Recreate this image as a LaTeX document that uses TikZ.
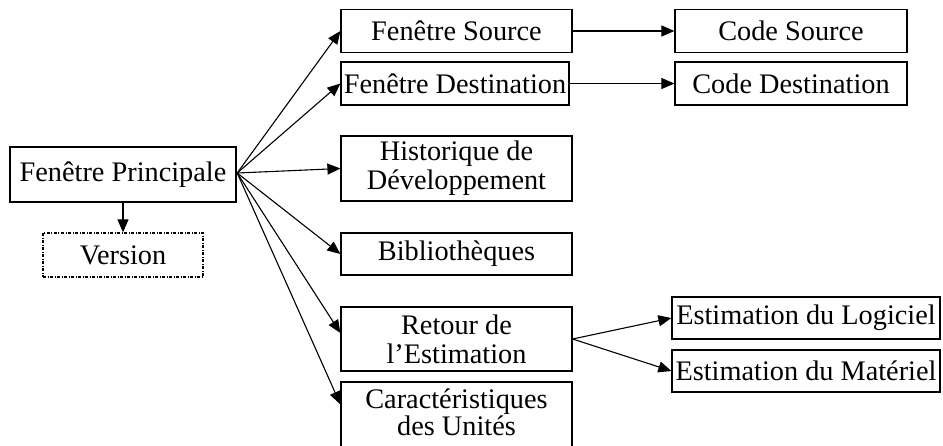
\documentclass[tikz,border=0pt]{standalone}
\usepackage{fontspec}
\setmainfont{Liberation Serif}
\usetikzlibrary{arrows.meta,calc}
\begin{document}
\begin{tikzpicture}[x=1pt,y=-1pt,
  txt/.style={inner sep=0pt, align=center, font=\fontsize{28.3}{29}\selectfont},
  box/.style={txt, draw, line width=1.2pt},
  link/.style={line width=1.1pt, -{Triangle[length=13pt,width=11pt]}}]
\useasboundingbox (0,0) rectangle (943,445);

% main window and its version
\node[box, line width=2.4pt, minimum width=226pt, minimum height=55pt] (main) at (123,174.5) {Fenêtre Principale};
\node[box, line width=1.3pt, dash pattern=on 3pt off 1.5pt on 1pt off 1.5pt,
      minimum width=160pt, minimum height=44pt] (ver) at (123,255) {Version};

% child windows
\node[box, minimum width=231pt, minimum height=43pt] (fs) at (456.5,31) {Fenêtre Source};
\node[box, minimum width=228pt, minimum height=43pt] (fd) at (455,83.5) {Fenêtre Destination};
\node[box, minimum width=231pt, minimum height=65pt] (hist) at (456.5,168.5) {Historique de\\Développement};
\node[box, minimum width=231pt, minimum height=42pt] (bib) at (456.5,254) {Bibliothèques};
\node[box, minimum width=231pt, minimum height=64pt] (ret) at (456.5,339) {Retour de\\l’Estimation};
\node[box, minimum width=231pt, minimum height=80pt] (car) at (456.5,422) {};
\node[txt, font=\fontsize{28.3}{23.5}\selectfont] (cartext) at (456.5,412) {Caractéristiques\\des Unités};

% third level
\node[box, minimum width=232pt, minimum height=43pt] (cs) at (791,31) {Code Source};
\node[box, minimum width=232pt, minimum height=43pt] (cd) at (791,83.5) {Code Destination};
\node[box, minimum width=268pt, minimum height=42pt] (el) at (806,318) {Estimation du Logiciel};
\node[box, minimum width=268pt, minimum height=42pt] (em) at (806,371) {Estimation du Matériel};

% connectors
\draw[link] (main.south) -- (ver.north);
\coordinate (hub) at ($(main.east)+(0,-1.5)$);
\foreach \t in {fs,fd,hist,bib}
  \draw[link] (hub) -- (\t.west);
\draw[link] (hub) -- ($(ret.west)+(0,-6)$);
\draw[link] (hub) -- ($(car.north west)+(0,23)$);
\draw[link] (fs) -- (cs);
\draw[link] (fd.east) -- (fd.east -| cd.west);
\draw[link] (ret.east) -- (el.west);
\draw[link] (ret.east) -- (em.west);
\end{tikzpicture}
\end{document}
